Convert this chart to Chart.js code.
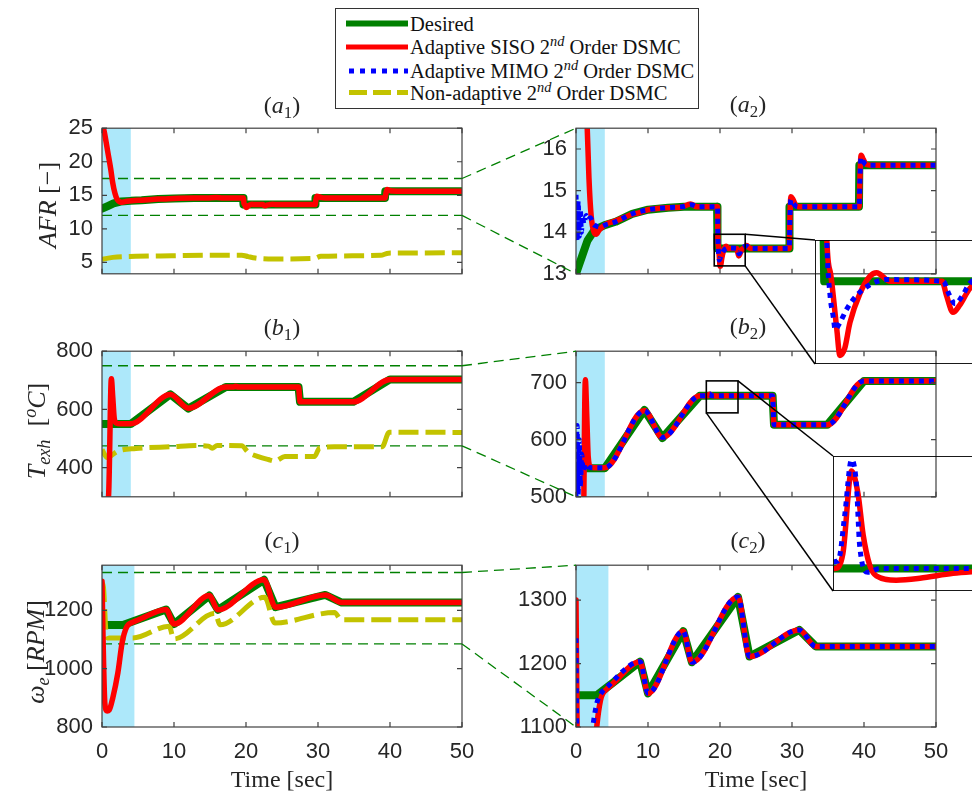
<!DOCTYPE html>
<html>
<head>
<meta charset="utf-8">
<script src="https://cdn.jsdelivr.net/npm/chart.js@4.4.1/dist/chart.umd.min.js"></script>
<style>
  body { margin: 0; width: 972px; height: 795px; overflow: hidden; background: #fff; position: relative; }
  canvas { position: absolute; }
  .t { position: absolute; transform: translate(-50%, -50%); white-space: nowrap; font-family: "Liberation Serif", "DejaVu Serif", serif; color: #262626; z-index: 5; }
  .rot { transform: translate(-50%, -50%) rotate(-90deg); }
  .title { font-size: 24px; }
  .ylab { font-size: 26px; }
  .xlab { font-size: 24px; }
  sub { font-size: 0.7em; vertical-align: -0.3em; line-height: 0; }
  sup { font-size: 0.7em; vertical-align: 0.5em; line-height: 0; }
  #legend { position: absolute; left: 335px; top: 8px; width: 364px; height: 101px; box-sizing: border-box; border: 1px solid #333; background: #fff; z-index: 6; }
  #legend svg { position: absolute; left: 9px; }
  #legend .row { position: absolute; left: 74px; transform: translateY(-50%); font-family: "Liberation Serif", serif; font-size: 20.5px; color: #111; white-space: nowrap; }
</style>
</head>
<body>

<div id="legend">
  <svg width="64" height="100" style="top:0">
    <line x1="1" y1="14.5" x2="63" y2="14.5" stroke="#008000" stroke-width="6"/>
    <line x1="1" y1="38" x2="63" y2="38" stroke="#ff0000" stroke-width="5"/>
    <line x1="4" y1="62" x2="63" y2="62" stroke="#0000ff" stroke-width="5" stroke-dasharray="5 6"/>
    <line x1="4" y1="83.5" x2="63" y2="83.5" stroke="#c3c300" stroke-width="5" stroke-dasharray="18 6"/>
  </svg>
  <div class="row" style="top:14.5px">Desired</div>
  <div class="row" style="top:38px">Adaptive SISO 2<sup><i>nd</i></sup> Order DSMC</div>
  <div class="row" style="top:62px">Adaptive MIMO 2<sup><i>nd</i></sup> Order DSMC</div>
  <div class="row" style="top:83.5px">Non-adaptive 2<sup><i>nd</i></sup> Order DSMC</div>
</div>

<div class="t title" style="left:282px;top:105px">(<i>a</i><sub>1</sub>)</div>
<div class="t title" style="left:748px;top:104px">(<i>a</i><sub>2</sub>)</div>
<div class="t title" style="left:282px;top:327px">(<i>b</i><sub>1</sub>)</div>
<div class="t title" style="left:748px;top:326px">(<i>b</i><sub>2</sub>)</div>
<div class="t title" style="left:282px;top:540px">(<i>c</i><sub>1</sub>)</div>
<div class="t title" style="left:748px;top:540px">(<i>c</i><sub>2</sub>)</div>

<div class="t ylab rot" style="left:48px;top:205px"><i>AFR</i> [&minus;]</div>
<div class="t ylab rot" style="left:37px;top:431px"><i>T</i><sub><i>exh</i></sub>&nbsp; [<sup><i>o</i></sup><i>C</i>]</div>
<div class="t ylab rot" style="left:36px;top:652px"><i>&omega;</i><sub><i>e</i></sub>&nbsp;[<i>RPM</i>]</div>

<div class="t xlab" style="left:282px;top:779px">Time [sec]</div>
<div class="t xlab" style="left:756px;top:779px">Time [sec]</div>

<script>
// ---------------- data (time [s], value) ----------------
const timeTicks = [0, 10, 20, 30, 40, 50];

// AFR
const afrDesired = [[0,13.0],[0.8,13.4],[1.6,13.8],[2.6,14.06],[4,14.17],[5.5,14.25],[7.8,14.44],[10,14.54],[12.8,14.59],[15,14.61],[19.6,14.61],[19.65,13.61],[29.6,13.61],[29.65,14.61],[39.3,14.61],[39.35,15.61],[50,15.61]];
const afrSiso = [[0,26],[0.4,24],[0.8,21.5],[1.2,19],[1.5,16.8],[1.8,15.3],[2.1,14.4],[2.5,14.0],[2.8,13.95],[3.2,14.05],[3.8,14.15],[4.5,14.22],[5.5,14.27],[7.8,14.43],[8.6,14.46],[10,14.54],[12.8,14.59],[14.6,14.6],[15.9,14.68],[16.8,14.61],[19.66,14.61],[19.71,13.86],[19.8,13.65],[19.94,13.33],[20.01,13.18],[20.12,13.22],[20.24,13.37],[20.47,13.54],[20.7,13.64],[20.85,13.66],[21.16,13.61],[22.35,13.61],[22.45,13.53],[22.6,13.43],[22.75,13.47],[22.99,13.57],[23.3,13.62],[23.7,13.68],[24.2,13.61],[29.62,13.61],[29.7,14.3],[29.85,14.85],[30.1,14.8],[30.5,14.65],[31,14.61],[39.32,14.61],[39.45,15.4],[39.6,15.85],[39.9,15.75],[40.3,15.63],[41,15.61],[50,15.61]];
const afrMimo = [[0,14.9],[0.15,13.8],[0.3,14.75],[0.45,13.9],[0.6,14.55],[0.75,14.0],[0.9,14.4],[1.1,14.2],[1.4,14.4],[1.7,14.3],[2.0,14.35],[2.4,14.2],[2.8,14.15],[3.3,14.13],[4,14.17],[5.5,14.25],[7.8,14.44],[10,14.54],[12.8,14.59],[15,14.62],[16,14.66],[17,14.61],[19.66,14.61],[19.71,13.86],[19.78,13.54],[19.86,13.4],[19.9,13.33],[20.01,13.37],[20.17,13.45],[20.4,13.53],[20.7,13.59],[21.08,13.62],[22.38,13.61],[22.5,13.54],[22.65,13.48],[22.8,13.52],[22.99,13.6],[23.7,13.66],[24.2,13.61],[29.62,13.61],[29.72,14.4],[29.85,14.78],[30.1,14.72],[30.5,14.63],[31,14.61],[39.32,14.61],[39.45,15.4],[39.6,15.8],[39.9,15.7],[40.3,15.62],[41,15.61],[50,15.61]];
const afrNonAdaptive = [[0,5.45],[1.5,5.75],[4.7,5.9],[9.7,5.99],[15.3,6.08],[19.4,6.08],[20.3,5.86],[21.3,5.64],[23.1,5.51],[29.5,5.6],[30.4,5.9],[38.7,6.05],[39.8,6.38],[50,6.42]];
const afrGuides = [17.5, 12];
const afrTicksWide = [5, 10, 15, 20, 25];
const afrTicksZoom = [13, 14, 15, 16];

// exhaust temperature
const texhDesired = [[0,550],[4.0,550],[9.5,652],[12.0,603],[17.2,677],[27.3,677],[27.5,626],[34.9,626],[40.0,703],[50,703]];
const texhSiso = [[0,250],[0.9,300],[1.3,705],[1.5,640],[1.7,570],[2.0,553],[2.5,551],[4.0,551],[9.5,651],[12.0,604],[17.2,677],[18.14,677],[18.33,677.4],[18.53,679.6],[18.68,679.0],[18.8,677.9],[18.95,677.1],[19.11,676.8],[19.57,676.69],[20.12,676.74],[20.89,676.87],[21.32,676.91],[23,677],[27.3,677],[27.5,626],[34.9,626],[40.0,703],[50,703]];
const texhMimo = [[0,500],[0.15,625],[0.3,505],[0.45,600],[0.6,520],[0.8,575],[1.0,545],[1.3,558],[1.7,552],[2.2,551],[4.0,551],[9.5,651],[12.0,604],[17.2,677],[18.22,677.2],[18.37,678.4],[18.53,679.9],[18.64,679.3],[18.72,677.6],[18.91,676.9],[19.19,677.0],[27.3,677],[27.5,626],[34.9,626],[40.0,703],[50,703]];
const texhNonAdaptive = [[0,462],[0.7,435],[2.2,457],[4.7,466],[9.8,472],[13.0,476],[14.8,474],[15.3,467],[16.0,476],[19.4,475],[20.3,453],[21.7,438],[23.1,428],[24.0,423],[25.4,438],[29.5,438],[30.2,467],[32.3,472],[38.9,472],[39.9,522],[50,521]];
const texhGuides = [750, 475];
const texhTicksWide = [400, 600, 800];
const texhTicksZoom = [500, 600, 700];

// engine speed
const omegaDesired = [[0,1150],[2.9,1150],[8.9,1203],[10.0,1153],[14.9,1251],[16.1,1202],[22.5,1305],[24.1,1211],[31.0,1253],[33.3,1227],[50,1227]];
const omegaSiso = [[0,1300],[0.15,1100],[0.4,880],[0.7,855],[1.0,858],[1.5,900],[2.2,985],[2.8,1090],[3.4,1142],[4.3,1160],[5.0,1167],[8.9,1203],[10.0,1153],[14.9,1251],[16.1,1202],[22.5,1305],[24.1,1211],[31.0,1253],[33.3,1227],[50,1227]];
const omegaMimo = [[0,1240],[0.1,1100],[0.3,1040],[1.0,1010],[1.7,1040],[2.2,1090],[2.45,1110],[2.9,1138],[3.6,1155],[4.2,1162],[8.9,1203],[10.0,1153],[14.9,1251],[16.1,1202],[22.5,1305],[24.1,1211],[31.0,1253],[33.3,1227],[50,1227]];
const omegaNonAdaptive = [[0,1295],[0.2,1280],[0.6,1115],[0.9,1105],[4.3,1105],[9.3,1146],[10.0,1102],[15.7,1190],[16.4,1151],[22.6,1245],[24.0,1157],[32.3,1193],[33.2,1168],[50,1168]];
const omegaGuides = [1330, 1085];
const omegaTicksWide = [800, 1000, 1200];
const omegaTicksZoom = [1100, 1200, 1300];

// shaded start-up window and zoom boxes
const shadeEnd = [4.0, 4.0, 4.5];
const zoomBoxA = { x0: 19.2, x1: 23.5, y0: 13.19, y1: 13.95 };
const zoomBoxB = { x0: 18.1, x1: 22.5, y0: 647, y1: 703 };

// ---------------- styles ----------------
Chart.defaults.font.family = '"Liberation Sans", Arial, sans-serif';
Chart.defaults.font.size = 22;
Chart.defaults.color = '#262626';

const desiredStyle = { borderColor: '#008000', borderWidth: 8, tension: 0, borderJoinStyle: 'round', borderCapStyle: 'round' };
const sisoStyle = { borderColor: '#ff0000', borderWidth: 5.5, cubicInterpolationMode: 'monotone', borderJoinStyle: 'round', borderCapStyle: 'round' };
const mimoStyle = { borderColor: '#0000ff', borderWidth: 5, borderDash: [5, 5], cubicInterpolationMode: 'monotone' };
const nonAdStyle = { borderColor: '#c3c300', borderWidth: 5, borderDash: [20, 7], cubicInterpolationMode: 'monotone' };
const guideStyle = { borderColor: '#008000', borderWidth: 1.3, borderDash: [10, 6], tension: 0 };

function line(pairs, style, extra) {
  return Object.assign({ data: pairs.map(([x, y]) => ({ x, y })), pointRadius: 0, fill: false }, style, extra || {});
}

// box, inward ticks, shading and zoom rectangle
const framePlugin = {
  id: 'frame',
  beforeDatasetsDraw(chart, args, o) {
    if (o.shadeEnd == null) return;
    const { ctx, chartArea: a, scales } = chart;
    const xe = scales.x.getPixelForValue(o.shadeEnd);
    ctx.save();
    ctx.fillStyle = '#ade8fa';
    ctx.fillRect(a.left, a.top, xe - a.left, a.bottom - a.top);
    ctx.restore();
  },
  afterDatasetsDraw(chart, args, o) {
    const { ctx, chartArea: a, scales } = chart;
    ctx.save();
    ctx.strokeStyle = o.color || '#404040';
    ctx.lineWidth = o.width || 1.2;
    ctx.strokeRect(a.left, a.top, a.right - a.left, a.bottom - a.top);
    if (o.ticks) {
      ctx.beginPath();
      scales.x.ticks.forEach(t => {
        const p = scales.x.getPixelForValue(t.value);
        ctx.moveTo(p, a.bottom); ctx.lineTo(p, a.bottom - 5);
        ctx.moveTo(p, a.top); ctx.lineTo(p, a.top + 5);
      });
      scales.y.ticks.forEach(t => {
        const p = scales.y.getPixelForValue(t.value);
        ctx.moveTo(a.left, p); ctx.lineTo(a.left + 5, p);
        ctx.moveTo(a.right, p); ctx.lineTo(a.right - 5, p);
      });
      ctx.stroke();
    }
    if (o.box) {
      const b = o.box;
      const x0 = scales.x.getPixelForValue(b.x0), x1 = scales.x.getPixelForValue(b.x1);
      const y0 = scales.y.getPixelForValue(b.y0), y1 = scales.y.getPixelForValue(b.y1);
      ctx.strokeStyle = '#000';
      ctx.lineWidth = 1.6;
      ctx.strokeRect(x0, y1, x1 - x0, y0 - y1);
    }
    ctx.restore();
  }
};

function addCanvas(left, top, w, h) {
  const c = document.createElement('canvas');
  c.width = w; c.height = h;
  c.style.left = left + 'px'; c.style.top = top + 'px';
  document.body.appendChild(c);
  return c;
}

const plotW = 360, plotH = 169;

function mainPanel(p) {
  const datasets = [];
  if (p.mimo) datasets.push(line(p.mimo, mimoStyle));
  datasets.push(line(p.siso, sisoStyle));
  if (p.nonAd) datasets.push(line(p.nonAd, nonAdStyle));
  datasets.push(line(p.desired, desiredStyle));
  (p.guides || []).forEach(g => datasets.push(line([[0, g], [50, g]], guideStyle)));
  const canvas = addCanvas(p.left - 100, p.top - 15, 100 + plotW + 25, 15 + plotH + (p.xLabels ? 50 : 6));
  return new Chart(canvas, {
    type: 'line',
    data: { datasets },
    options: {
      responsive: false, animation: false, events: [],
      layout: { padding: { left: 0, top: 15, right: 25, bottom: 0 } },
      plugins: { legend: { display: false }, tooltip: { enabled: false },
                 frame: { shadeEnd: p.shade, box: p.box, ticks: true } },
      scales: {
        x: {
          type: 'linear', min: 0, max: 50,
          grid: { display: false, drawTicks: false }, border: { display: false },
          afterBuildTicks: s => { s.ticks = timeTicks.map(v => ({ value: v })); },
          afterFit: s => { s.height = p.xLabels ? 50 : 6; },
          ticks: { display: !!p.xLabels, padding: 12, maxRotation: 0, callback: v => String(v) }
        },
        y: {
          type: 'linear', min: p.yMin, max: p.yMax,
          grid: { display: false, drawTicks: false }, border: { display: false },
          afterBuildTicks: s => { s.ticks = p.yTicks.map(v => ({ value: v })); },
          afterFit: s => { s.width = 100; },
          ticks: { padding: 9, callback: v => String(v) }
        }
      }
    },
    plugins: [framePlugin]
  });
}

function insetPanel(p) {
  const canvas = addCanvas(p.left, p.top, p.w, p.h);
  return new Chart(canvas, {
    type: 'line',
    data: { datasets: [line(p.mimo, mimoStyle, { clip: 0 }), line(p.siso, sisoStyle, { clip: 0 }), line(p.desired, desiredStyle, { clip: 0 })] },
    options: {
      responsive: false, animation: false, events: [],
      layout: { padding: 0 },
      plugins: { legend: { display: false }, tooltip: { enabled: false }, frame: { color: '#000', width: 1.8 } },
      scales: {
        x: { type: 'linear', min: p.xMin, max: p.xMax, display: false },
        y: { type: 'linear', min: p.yMin, max: p.yMax, display: false }
      }
    },
    plugins: [framePlugin]
  });
}

const a1 = mainPanel({ left: 102, top: 121, yMin: 3.3, yMax: 25, yTicks: afrTicksWide, desired: afrDesired, siso: afrSiso, nonAd: afrNonAdaptive, guides: afrGuides, shade: shadeEnd[0] });
const a2 = mainPanel({ left: 576, top: 121, yMin: 13, yMax: 16.5, yTicks: afrTicksZoom, desired: afrDesired, siso: afrSiso, mimo: afrMimo, shade: shadeEnd[0], box: zoomBoxA });
const b1 = mainPanel({ left: 102, top: 344, yMin: 300, yMax: 800, yTicks: texhTicksWide, desired: texhDesired, siso: texhSiso, nonAd: texhNonAdaptive, guides: texhGuides, shade: shadeEnd[1] });
const b2 = mainPanel({ left: 576, top: 344, yMin: 500, yMax: 755, yTicks: texhTicksZoom, desired: texhDesired, siso: texhSiso, mimo: texhMimo, shade: shadeEnd[1], box: zoomBoxB });
const c1 = mainPanel({ left: 102, top: 558, yMin: 800, yMax: 1355, yTicks: omegaTicksWide, desired: omegaDesired, siso: omegaSiso, nonAd: omegaNonAdaptive, guides: omegaGuides, shade: shadeEnd[2], xLabels: true });
const c2 = mainPanel({ left: 576, top: 558, yMin: 1100, yMax: 1355, yTicks: omegaTicksZoom, desired: omegaDesired, siso: omegaSiso, mimo: omegaMimo, shade: shadeEnd[2], xLabels: true });

const insetA = insetPanel({ left: 815, top: 240, w: 210, h: 124, xMin: 19.44, xMax: 24.25, yMin: 13.13, yMax: 13.85, desired: afrDesired, siso: afrSiso, mimo: afrMimo });
const insetB = insetPanel({ left: 833, top: 456, w: 210, h: 135, xMin: 18.1, xMax: 22.98, yMin: 676.4, yMax: 680, desired: texhDesired, siso: texhSiso, mimo: texhMimo });

// ---------------- connector lines between panels ----------------
function pagePt(chart, xv, yv) {
  return [chart.canvas.offsetLeft + chart.scales.x.getPixelForValue(xv),
          chart.canvas.offsetTop + chart.scales.y.getPixelForValue(yv)];
}
function pageArea(chart) {
  const a = chart.chartArea, l = chart.canvas.offsetLeft, t = chart.canvas.offsetTop;
  return { left: a.left + l, right: a.right + l, top: a.top + t, bottom: a.bottom + t };
}

const overlay = addCanvas(0, 0, 972, 795);
overlay.style.zIndex = 4;
const octx = overlay.getContext('2d');
function seg(p, q) { octx.beginPath(); octx.moveTo(p[0], p[1]); octx.lineTo(q[0], q[1]); octx.stroke(); }

octx.strokeStyle = '#008000';
octx.lineWidth = 1.3;
octx.setLineDash([10, 6]);
[[a1, a2, afrGuides], [b1, b2, texhGuides], [c1, c2, omegaGuides]].forEach(([w, z, g]) => {
  const area = pageArea(z);
  seg(pagePt(w, 50, g[0]), [area.left, area.top]);
  seg(pagePt(w, 50, g[1]), [area.left, area.bottom]);
});

octx.setLineDash([]);
octx.strokeStyle = '#000';
octx.lineWidth = 1.5;
const iaA = pageArea(insetA), iaB = pageArea(insetB);
seg(pagePt(a2, zoomBoxA.x1, zoomBoxA.y1), [iaA.left, iaA.top]);
seg(pagePt(a2, zoomBoxA.x1, zoomBoxA.y0), [iaA.left, iaA.bottom]);
seg(pagePt(b2, zoomBoxB.x1, zoomBoxB.y1), [iaB.left, iaB.top]);
seg(pagePt(b2, zoomBoxB.x0, zoomBoxB.y0), [iaB.left, iaB.bottom]);
</script>
</body>
</html>
